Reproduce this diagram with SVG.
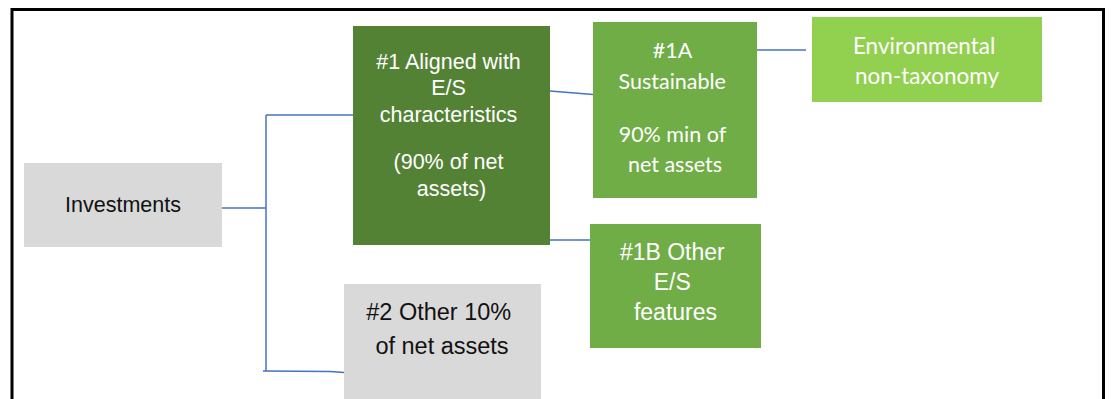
<svg xmlns="http://www.w3.org/2000/svg" width="1113" height="399" viewBox="0 0 1113 399">
  <style>
    .h { font-family: "Liberation Sans", Arial, sans-serif; text-anchor: middle; }
    .c { font-family: Lato, "Open Sans", sans-serif; text-anchor: middle; fill: #ffffff; }
    .w { fill: #ffffff; }
    .k { fill: #111111; }
    .conn { stroke: #4472c4; stroke-width: 1.5; fill: none; }
  </style>
  <rect x="0" y="0" width="1113" height="399" fill="#ffffff"/>
  <rect id="frame" x="12" y="9.5" width="1091.5" height="500" fill="none" stroke="#000000" stroke-width="3"/>

  <g id="connectors">
    <line class="conn" x1="222" y1="208" x2="266" y2="208"/>
    <line class="conn" x1="266" y1="115" x2="266" y2="371"/>
    <line class="conn" x1="266" y1="115" x2="353" y2="115"/>
    <polyline class="conn" points="263,371 330,371.5 344,372.5"/>
    <line class="conn" x1="550" y1="91" x2="593" y2="94.5"/>
    <line class="conn" x1="756.5" y1="50" x2="806" y2="50"/>
    <line class="conn" x1="550" y1="240" x2="590" y2="240"/>
  </g>

  <g id="investments">
    <rect x="24" y="163" width="198" height="84" fill="#d9d9d9"/>
    <text class="h k" x="123" y="212" font-size="21.5">Investments</text>
  </g>

  <g id="aligned">
    <rect x="353" y="26" width="197" height="219" fill="#548235"/>
    <text class="h w" font-size="21.5">
      <tspan x="451.5" y="68.5">#1 Aligned with</tspan>
      <tspan x="451.5" y="95">E/S</tspan>
      <tspan x="451.5" y="121.5">characteristics</tspan>
      <tspan x="451.5" y="168.5">(90% of net</tspan>
      <tspan x="451.5" y="195.5">assets)</tspan>
    </text>
  </g>

  <g id="sustainable">
    <rect x="593" y="22" width="164" height="176" fill="#70ad47"/>
    <text class="c" font-size="21.5">
      <tspan x="675" y="57.5">#1A</tspan>
      <tspan x="675" y="88.5">Sustainable</tspan>
      <tspan x="675" y="141.5">90% min of</tspan>
      <tspan x="675" y="171.5">net assets</tspan>
    </text>
  </g>

  <g id="environmental">
    <rect x="812" y="17" width="230" height="85" fill="#92d050"/>
    <text class="c" font-size="22.5">
      <tspan x="927" y="53.5">Environmental</tspan>
      <tspan x="927" y="84">non-taxonomy</tspan>
    </text>
  </g>

  <g id="other-es">
    <rect x="590" y="224" width="171" height="124" fill="#70ad47"/>
    <text class="h w" font-size="23">
      <tspan x="675.5" y="259.5">#1B Other</tspan>
      <tspan x="675.5" y="290">E/S</tspan>
      <tspan x="675.5" y="319.5">features</tspan>
    </text>
  </g>

  <g id="other">
    <rect x="344" y="284" width="197" height="120" fill="#d9d9d9"/>
    <text class="h k" font-size="23.5">
      <tspan x="442" y="320">#2 Other 10%</tspan>
      <tspan x="442" y="354">of net assets</tspan>
    </text>
  </g>
</svg>
